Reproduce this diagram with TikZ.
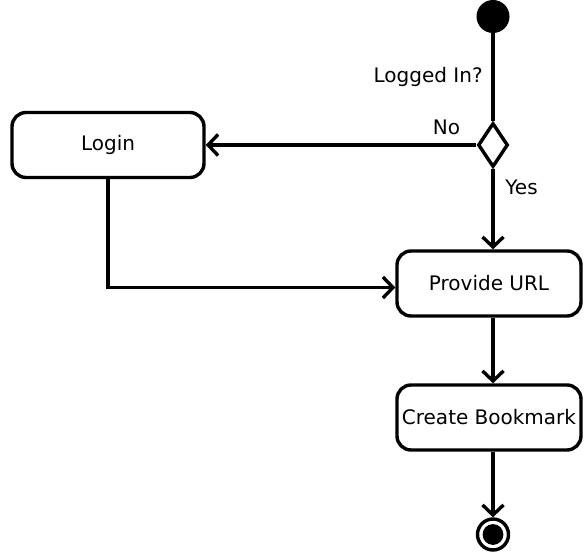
\documentclass[tikz,border=0pt]{standalone}
\usepackage{fontspec}
\setmainfont{DejaVu Sans}
\usetikzlibrary{arrows.meta,positioning,shapes.geometric}
\tikzset{
  act/.style={draw,line width=1.7pt,rounded corners=7pt,minimum height=32.5pt,inner sep=2pt},
  flow/.style={line width=1.7pt,-{Straight Barb[length=5pt,width=10.5pt,line width=1.7pt]}},
  plain/.style={line width=1.7pt},
}
\begin{document}
\begin{tikzpicture}[x=0.5pt,y=-0.5pt,font=\fontsize{10}{12}\selectfont]
\useasboundingbox (0,0) rectangle (584,556);
% start, decision and end
\node[circle,fill,inner sep=0,minimum size=16.5pt] (start) at (493,16.5) {};
\node[diamond,draw,line width=1.7pt,inner sep=0,minimum width=15pt,minimum height=22pt] (logged) at (493,145) {};
\node[circle,draw,line width=1.7pt,inner sep=0,minimum size=15.5pt] (stop) at (493,534.5) {};
\fill (stop) circle (5.2pt);
% activities
\node[act,minimum width=96pt] (login) at (108,145) {Login};
\node[act,minimum width=92pt] (url) at (489,283.5) {Provide URL};
\node[act,minimum width=92pt] (bookmark) at (489,417.5) {Create Bookmark};
% flows
\draw[plain] (start) -- (logged.north) node[pos=.5,left,xshift=-1pt] {Logged In?};
\draw[flow] (logged.west) -- (login.east) node[pos=.11,above,yshift=1pt] {No};
\draw[flow] (logged.south) -- (logged.south |- url.north) node[pos=.23,right,xshift=2pt] {Yes};
\draw[flow] (login.south) |- ([yshift=-2pt]url.west);
\draw[flow] (url.south -| stop) -- (bookmark.north -| stop);
\draw[flow] (bookmark.south -| stop) -- (stop.north);
\end{tikzpicture}
\end{document}
